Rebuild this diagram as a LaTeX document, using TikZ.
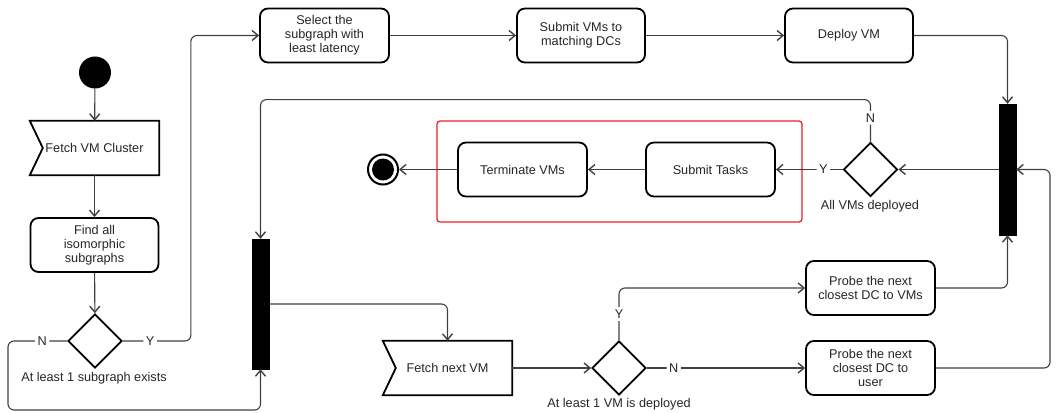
\documentclass[tikz,border=0pt]{standalone}
\usepackage{fontspec}
\setmainfont{Liberation Sans}
\usetikzlibrary{arrows.meta,shapes.geometric,calc}
\begin{document}
\begin{tikzpicture}[x=1pt,y=-1pt,
  font=\fontsize{12.7}{13.8}\selectfont,
  box/.style={draw=black, line width=1.8pt, rounded corners=8pt, minimum width=128pt, minimum height=54pt, align=center, inner sep=2pt, text=black!85},
  flagbox/.style={minimum width=129pt, minimum height=54pt, align=center, inner sep=2pt, text=black!85},
  flagline/.style={draw=black, line width=1.8pt, line join=miter},
  dec/.style={diamond, draw=black, line width=1.8pt, minimum width=54pt, minimum height=54pt, inner sep=0pt},
  bar/.style={fill=black, draw=black, minimum width=17pt, minimum height=130pt, inner sep=0pt},
  conn/.style={draw=black!75, line width=1.1pt, rounded corners=6pt, -{Straight Barb[length=6pt,width=10pt,line width=1.4pt]}},
  lbl/.style={fill=white, inner sep=2.5pt, text=black!85},
  caption/.style={text=black!85, inner sep=0pt},
  frame/.style={draw={rgb,255:red,240;green,30;blue,40}, line width=1.3pt, rounded corners=3pt, minimum width=365pt, minimum height=101pt},
]
\useasboundingbox (0,0) rectangle (1056,412);

% nodes
\node[circle, fill=black, minimum size=32pt, inner sep=0pt] (start) at (95,72.5) {};
\node[flagbox] (fvc) at (94.5,148) {Fetch VM Cluster};
\draw[flagline] (fvc.north west) -- (fvc.north east) -- (fvc.south east) -- (fvc.south west) -- ($(fvc.west)+(13,0)$) -- cycle;
\node[box] (find) at (94.5,245) {Find all\\isomorphic\\subgraphs};
\node[dec] (d1) at (95,341) {};
\node[caption] (d1l) at (94,378) {At least 1 subgraph exists};

\node[box, minimum width=129pt] (sel) at (324.5,35.5) {Select the\\subgraph with\\least latency};
\node[box] (svm) at (581,35.5) {Submit VMs to\\matching DCs};
\node[box] (dep) at (849,35.5) {Deploy VM};

\node[bar, minimum height=131pt] (bar2) at (1007.5,169.5) {};
\node[bar] (bar1) at (260.5,304) {};

\node[frame] (grp) at (619.5,171.5) {};
\node[dec] (d2) at (870.5,169.5) {};
\node[caption] (d2l) at (870,206) {All VMs deployed};
\node[box, minimum width=129pt] (subt) at (710.5,169.5) {Submit Tasks};
\node[box, minimum width=129pt] (term) at (522.5,169.5) {Terminate VMs};
\node[circle, draw=black, line width=2pt, fill=white, minimum size=30pt, inner sep=0pt] (end) at (383,169.5) {};
\fill[black] (end.center) circle (11);

\node[flagbox] (fnv) at (447.5,368) {Fetch next VM};
\draw[flagline] (fnv.north west) -- (fnv.north east) -- (fnv.south east) -- (fnv.south west) -- ($(fnv.west)+(13,0)$) -- cycle;
\node[dec] (d3) at (619,368) {};
\node[caption] (d3l) at (619,404) {At least 1 VM is deployed};
\node[box, minimum width=129pt] (pvm) at (870.5,288) {Probe the next\\closest DC to VMs};
\node[box, minimum width=129pt] (pvu) at (870.5,368) {Probe the next\\closest DC to\\user};

% connectors
\draw[conn] (start) -- (fvc);
\draw[conn] (fvc) -- (find);
\draw[conn] (find) -- (d1);
\draw[conn] (d1.east) -- node[lbl,pos=0.4]{Y} ++(68,0) |- (sel.west);
\draw[conn] (d1.west) -- node[lbl,pos=0.42]{N} (8,341) -- (8,410) -| (bar1.south);
\draw[conn] (sel) -- (svm);
\draw[conn] (svm) -- (dep);
\draw[conn] (dep.east) -| (bar2.north);
\draw[conn] (bar2) -- (d2.east);
\draw[conn] (d2.west) -- node[lbl,pos=0.29]{Y} (subt.east);
\draw[conn] (subt) -- (term);
\draw[conn] (term) -- (end);
\draw[conn] (d2.north) -- node[lbl,pos=0.57]{N} ++(0,-42) -| (bar1.north);
\draw[conn] (bar1.east) -| (fnv.north);
\draw[conn] (fnv.east) -- (d3.west);
\draw[conn] (d3.north) |- node[lbl,pos=0.25]{Y} (pvm.west);
\draw[conn] (d3.east) -- node[lbl,pos=0.17]{N} (pvu.west);
\draw[conn] (pvm.east) -| (bar2.south);
\draw[conn] (pvu.east) -- (1050,368) |- (bar2.east);
\end{tikzpicture}
\end{document}
